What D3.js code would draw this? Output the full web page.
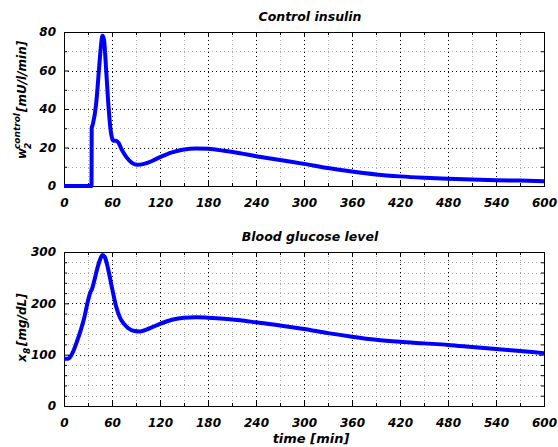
<!DOCTYPE html>
<html>
<head>
<meta charset="utf-8">
<script src="https://cdn.jsdelivr.net/npm/d3@7"></script>
<style>
  body { margin: 0; background: #fff; }
  svg { display: block; }
  text { font-family: "DejaVu Sans", "Liberation Sans", sans-serif; font-weight: bold; font-style: italic; fill: #000; }
</style>
</head>
<body>
<svg id="chart" width="558" height="447"></svg>
<script>
// time axis ticks
const timeTicks = [0, 60, 120, 180, 240, 300, 360, 420, 480, 540, 600];

// control insulin w2 [mU/l/min]
const insulinTime = [0, 34.4, 34.6, 36, 40, 44, 46, 48, 50, 52, 55, 58, 60, 62, 65, 68, 72, 78, 85, 92, 100, 110, 120, 135, 150, 165, 180, 200, 220, 240, 270, 300, 330, 360, 390, 420, 450, 480, 510, 540, 570, 600];
const insulinValue = [0, 0, 30, 32, 42, 62, 72, 78, 76, 65, 45, 30, 25, 23.5, 23.5, 22.5, 19, 15, 12, 11, 11.5, 13, 15, 17.5, 19, 19.5, 19.3, 18.3, 17, 15.5, 13.5, 11.5, 9.3, 7.5, 6, 5, 4.3, 3.8, 3.4, 3, 2.8, 2.5];
const insulinTicks = [0, 20, 40, 60, 80];

// blood glucose x8 [mg/dL]
const glucoseTime = [0, 5, 8, 12, 16, 20, 25, 30, 33, 35, 38, 42, 45, 48, 51, 55, 60, 65, 70, 75, 80, 88, 95, 105, 120, 135, 150, 165, 180, 200, 220, 240, 270, 300, 330, 360, 390, 420, 450, 480, 510, 540, 570, 600];
const glucoseValue = [92, 92, 96, 108, 125, 143, 170, 205, 222, 228, 245, 270, 285, 294, 290, 268, 230, 195, 172, 160, 152, 146, 145, 150, 160, 168, 172, 173, 172, 170, 167, 163, 157, 150, 142, 135, 129, 125, 122, 119, 115, 111, 107, 103];
const glucoseTicks = [0, 100, 200, 300];

const svg = d3.select('#chart');
const left = 64, right = 544;

function drawPanel(opts) {
  const x = d3.scaleLinear().domain([0, 600]).range([left, right]);
  const y = d3.scaleLinear().domain([0, opts.ymax]).range([opts.bottom, opts.top]);
  const g = svg.append('g');

  // grid: minor first, then major
  const xMinor = d3.range(30, 600, 60);
  const yMinor = d3.range(0, opts.ymax + 0.001, opts.minorStep).filter(v => !opts.ticks.includes(v));
  g.selectAll('.vminor').data(xMinor).enter().append('line')
    .attr('x1', d => x(d) + 0.5).attr('x2', d => x(d) + 0.5)
    .attr('y1', opts.top).attr('y2', opts.bottom)
    .attr('stroke', '#aaa').attr('stroke-width', 1).attr('stroke-dasharray', '1,3');
  g.selectAll('.hminor').data(yMinor).enter().append('line')
    .attr('x1', left).attr('x2', right)
    .attr('y1', d => Math.round(y(d)) + 0.5).attr('y2', d => Math.round(y(d)) + 0.5)
    .attr('stroke', '#aaa').attr('stroke-width', 1).attr('stroke-dasharray', '1,3');
  g.selectAll('.vmajor').data(timeTicks.slice(1, -1)).enter().append('line')
    .attr('x1', d => x(d) + 0.5).attr('x2', d => x(d) + 0.5)
    .attr('y1', opts.top).attr('y2', opts.bottom)
    .attr('stroke', '#000').attr('stroke-width', 1).attr('stroke-dasharray', '1,3');
  g.selectAll('.hmajor').data(opts.ticks.slice(1, -1)).enter().append('line')
    .attr('x1', left).attr('x2', right)
    .attr('y1', d => Math.round(y(d)) + 0.5).attr('y2', d => Math.round(y(d)) + 0.5)
    .attr('stroke', '#000').attr('stroke-width', 1).attr('stroke-dasharray', '1,3');

  // axes with inward ticks on all sides
  const bottomAxis = d3.axisBottom(x).tickValues(timeTicks).tickSize(-5).tickPadding(12).tickFormat(d3.format('d'));
  const topAxis = d3.axisTop(x).tickValues(timeTicks).tickSize(-5).tickFormat('');
  const leftAxis = d3.axisLeft(y).tickValues(opts.ticks).tickSize(-5).tickPadding(8).tickFormat(d3.format('d'));
  const rightAxis = d3.axisRight(y).tickValues(opts.ticks).tickSize(-5).tickFormat('');

  g.append('g').attr('transform', `translate(0,${opts.bottom})`).call(bottomAxis);
  g.append('g').attr('transform', `translate(0,${opts.top})`).call(topAxis);
  g.append('g').attr('transform', `translate(${left},0)`).call(leftAxis);
  g.append('g').attr('transform', `translate(${right},0)`).call(rightAxis);

  // minor ticks
  g.append('g').attr('transform', `translate(0,${opts.bottom})`).call(d3.axisBottom(x).tickValues(xMinor).tickSize(-3).tickFormat(''));
  g.append('g').attr('transform', `translate(0,${opts.top})`).call(d3.axisTop(x).tickValues(xMinor).tickSize(-3).tickFormat(''));
  g.append('g').attr('transform', `translate(${left},0)`).call(d3.axisLeft(y).tickValues(yMinor).tickSize(-3).tickFormat(''));
  g.append('g').attr('transform', `translate(${right},0)`).call(d3.axisRight(y).tickValues(yMinor).tickSize(-3).tickFormat(''));

  g.selectAll('.domain').remove();
  g.selectAll('.tick line').attr('stroke', '#000');
  g.selectAll('.tick text').style('font-size', '12px')
    .attr('font-family', null).attr('font-size', null);

  // box
  g.append('rect')
    .attr('x', left + 0.5).attr('y', opts.top + 0.5)
    .attr('width', right - left).attr('height', opts.bottom - opts.top)
    .attr('fill', 'none').attr('stroke', '#000').attr('stroke-width', 1);

  // data line
  const pts = opts.t.map((t, i) => [t, opts.v[i]]);
  g.append('path')
    .datum(pts)
    .attr('fill', 'none')
    .attr('stroke', '#0000ff')
    .attr('stroke-width', 4)
    .attr('stroke-linejoin', 'round')
    .attr('d', d3.line().x(d => x(d[0])).y(d => y(d[1])).curve(d3.curveMonotoneX));

  // title
  g.append('text')
    .attr('x', 310).attr('y', opts.top - 11)
    .attr('text-anchor', 'middle')
    .style('font-size', '12.5px')
    .text(opts.title);

  return g;
}

drawPanel({
  top: 32, bottom: 186, ymax: 80, minorStep: 10,
  ticks: insulinTicks, t: insulinTime, v: insulinValue,
  title: 'Control insulin'
});

drawPanel({
  top: 252, bottom: 406, ymax: 300, minorStep: 20,
  ticks: glucoseTicks, t: glucoseTime, v: glucoseValue,
  title: 'Blood glucose level'
});

// y label top: w_2^control [mU/l/min]
const yl1 = svg.append('g').attr('transform', 'translate(26,159) rotate(-90)');
yl1.append('text').attr('x', 0).attr('y', 0).style('font-size', '12px').text('w');
const sup = yl1.append('text').attr('x', 10).attr('y', -6).style('font-size', '9px').text('control');
yl1.append('text').attr('x', 10).attr('y', 5).style('font-size', '9px').text('2');
const supW = sup.node().getComputedTextLength();
yl1.append('text').attr('x', 10 + supW + 1).attr('y', 0).style('font-size', '12px').text('[mU/l/min]');

// y label bottom: x_8 [mg/dL]
const yl2 = svg.append('g').attr('transform', 'translate(26,362) rotate(-90)');
yl2.append('text').attr('x', 0).attr('y', 0).style('font-size', '12px').text('x');
yl2.append('text').attr('x', 8).attr('y', 4).style('font-size', '9px').text('8');
yl2.append('text').attr('x', 16).attr('y', 0).style('font-size', '12px').text('[mg/dL]');

// x label
svg.append('text')
  .attr('x', 311).attr('y', 443)
  .attr('text-anchor', 'middle')
  .style('font-size', '13px')
  .text('time [min]');
</script>
</body>
</html>
